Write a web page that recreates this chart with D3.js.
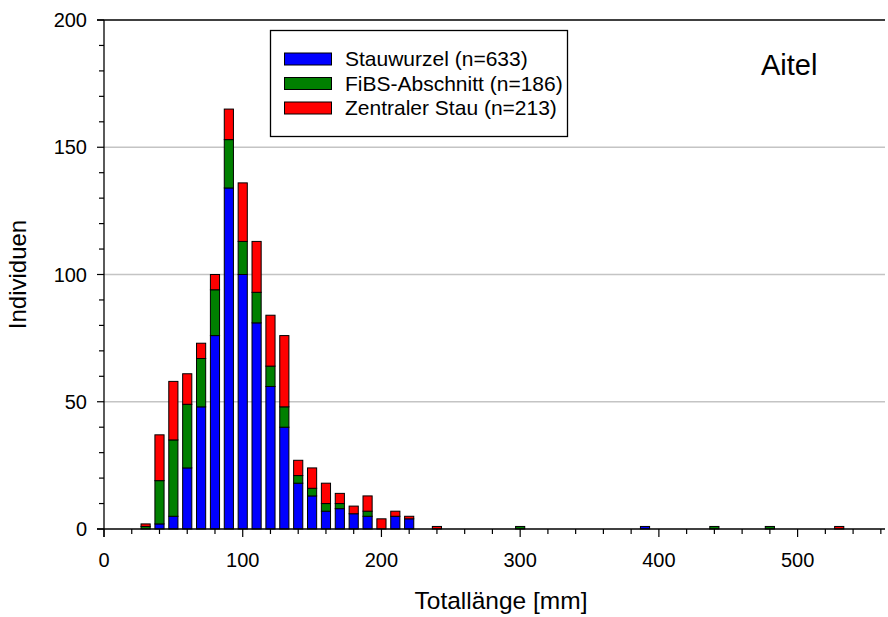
<!DOCTYPE html>
<html>
<head>
<meta charset="utf-8">
<script src="https://cdn.jsdelivr.net/npm/d3@7"></script>
<style>
  html, body { margin: 0; padding: 0; background: #fff; }
  svg { display: block; font-family: "Liberation Sans", Arial, sans-serif; }
</style>
</head>
<body>
<svg id="chart" width="888" height="617"></svg>
<script>
// ---- Data ----
const lengths    = [30, 40, 50, 60, 70, 80, 90, 100, 110, 120, 130, 140, 150, 160, 170, 180, 190, 200, 210, 220, 240, 300, 390, 440, 480, 530];
const stauwurzel = [0,  2,  5,  24, 48, 76, 134, 100, 81, 56, 40, 18, 13, 7, 8, 6, 5, 0, 5, 4, 0, 0, 1, 0, 0, 0];
const fibs       = [1, 17, 30,  25, 19, 18, 19,  13, 12,  8,  8,  3,  3, 3, 2, 0, 2, 0, 0, 0, 0, 1, 0, 1, 1, 0];
const zentral    = [1, 18, 23,  12,  6,  6, 12,  23, 20, 20, 28,  6,  8, 8, 4, 3, 6, 4, 2, 1, 1, 0, 0, 0, 0, 1];
const seriesNames  = ["Stauwurzel (n=633)", "FiBS-Abschnitt (n=186)", "Zentraler Stau (n=213)"];
const seriesColors = ["#0000ff", "#008000", "#ff0000"];
const xTicksMajor = [0, 100, 200, 300, 400, 500];
const yTicksMajor = [0, 50, 100, 150, 200];
const siteLabel = "Aitel";
const xTitle = "Totallänge [mm]";
const yTitle = "Individuen";

// ---- Build table ----
const keys = ["s", "f", "z"];
const table = lengths.map((L, i) => ({ L, s: stauwurzel[i], f: fibs[i], z: zentral[i] }));
const stacked = d3.stack().keys(keys)(table);

const svg = d3.select("#chart");
const x = d3.scaleLinear().domain([0, 563]).range([104, 885]);
const y = d3.scaleLinear().domain([0, 200]).range([529, 20]);
const halfW = 3.3;

// gridlines
svg.append("g").selectAll("line")
  .data([50, 100, 150]).join("line")
  .attr("x1", x(0)).attr("x2", x(563))
  .attr("y1", d => y(d)).attr("y2", d => y(d))
  .attr("stroke", "#c4c4c4").attr("stroke-width", 1.5);

// top line at 200
svg.append("line")
  .attr("x1", x(0) - 7).attr("x2", x(563))
  .attr("y1", y(200)).attr("y2", y(200))
  .attr("stroke", "#000").attr("stroke-width", 1.3);

// bars
svg.append("g").selectAll("g")
  .data(stacked).join("g")
  .attr("fill", (d, i) => seriesColors[i])
  .selectAll("rect")
  .data(d => d.filter(p => p[1] - p[0] > 0)).join("rect")
  .attr("x", p => x(p.data.L - halfW))
  .attr("width", p => x(p.data.L + halfW) - x(p.data.L - halfW))
  .attr("y", p => y(p[1]))
  .attr("height", p => y(p[0]) - y(p[1]))
  .attr("stroke", "#000").attr("stroke-width", 1);

// x axis
const xAxis = svg.append("g").attr("transform", `translate(0,${y(0)})`);
xAxis.append("line").attr("x1", x(0) - 7).attr("x2", x(563)).attr("y1", 0).attr("y2", 0)
  .attr("stroke", "#000").attr("stroke-width", 1.3);
xAxis.selectAll("line.minor").data(d3.range(20, 563, 20).filter(v => v % 100 !== 0)).join("line")
  .attr("class", "minor")
  .attr("x1", d => x(d)).attr("x2", d => x(d)).attr("y1", 0).attr("y2", 5)
  .attr("stroke", "#000").attr("stroke-width", 1.2);
xAxis.selectAll("line.major").data(xTicksMajor).join("line")
  .attr("class", "major")
  .attr("x1", d => x(d)).attr("x2", d => x(d)).attr("y1", 0).attr("y2", 8)
  .attr("stroke", "#000").attr("stroke-width", 1.2);
xAxis.selectAll("text").data(xTicksMajor).join("text")
  .attr("x", d => x(d)).attr("y", 38)
  .attr("text-anchor", "middle").attr("font-size", 20).text(d => d);

// y axis
const yAxis = svg.append("g").attr("transform", `translate(${x(0)},0)`);
yAxis.append("line").attr("x1", 0).attr("x2", 0).attr("y1", y(200)).attr("y2", y(0) + 8)
  .attr("stroke", "#000").attr("stroke-width", 1.3);
yAxis.selectAll("line.minor").data(d3.range(10, 200, 10).filter(v => v % 50 !== 0)).join("line")
  .attr("class", "minor")
  .attr("x1", -5).attr("x2", 0).attr("y1", d => y(d)).attr("y2", d => y(d))
  .attr("stroke", "#000").attr("stroke-width", 1.2);
yAxis.selectAll("line.major").data(yTicksMajor).join("line")
  .attr("class", "major")
  .attr("x1", -7).attr("x2", 0).attr("y1", d => y(d)).attr("y2", d => y(d))
  .attr("stroke", "#000").attr("stroke-width", 1.2);
yAxis.selectAll("text").data(yTicksMajor).join("text")
  .attr("x", -17).attr("y", d => y(d)).attr("dy", "0.35em")
  .attr("text-anchor", "end").attr("font-size", 20).text(d => d);

// axis titles
svg.append("text").attr("x", 501).attr("y", 609).attr("text-anchor", "middle")
  .attr("font-size", 24.5).text(xTitle);
svg.append("text").attr("transform", `translate(26,${y(100)}) rotate(-90)`)
  .attr("text-anchor", "middle").attr("font-size", 24).text(yTitle);

// site label
svg.append("text").attr("x", 761).attr("y", 75).attr("font-size", 29).text(siteLabel);

// legend
const lg = svg.append("g");
lg.append("rect").attr("x", 270.5).attr("y", 30.5).attr("width", 297).attr("height", 106)
  .attr("fill", "#fff").attr("stroke", "#000").attr("stroke-width", 1.3);
seriesNames.forEach((name, i) => {
  const cy = 59 + i * 24.5;
  lg.append("rect").attr("x", 284.5).attr("y", cy - 6).attr("width", 47).attr("height", 12)
    .attr("fill", seriesColors[i]).attr("stroke", "#000").attr("stroke-width", 1);
  lg.append("text").attr("x", 345).attr("y", cy).attr("dy", "0.35em")
    .attr("font-size", 21).text(name);
});
</script>
</body>
</html>
